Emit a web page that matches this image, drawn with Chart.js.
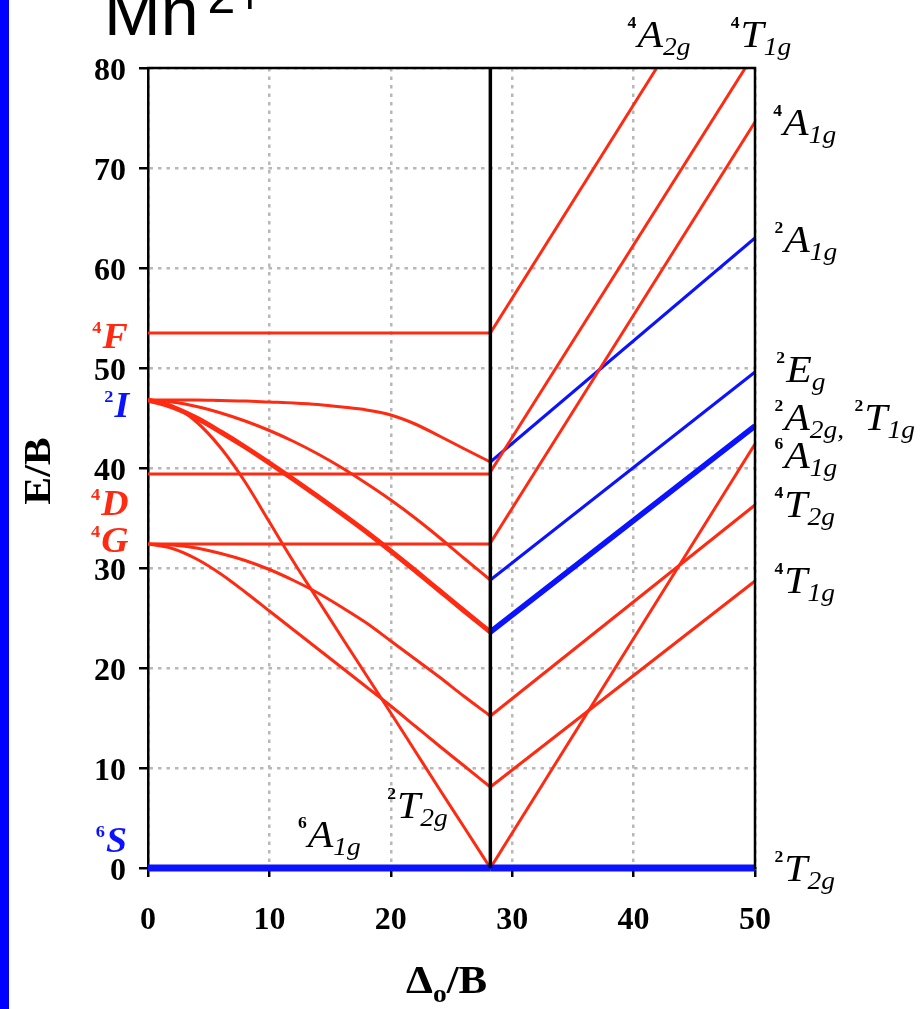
<!DOCTYPE html>
<html>
<head>
<meta charset="utf-8">
<title>Mn2+ Tanabe–Sugano diagram</title>
<script src="https://cdn.jsdelivr.net/npm/chart.js@4.4.1/dist/chart.umd.min.js"></script>
<style>
  html, body { margin: 0; padding: 0; background: #fff; }
  canvas { display: block; }
</style>
</head>
<body>
<canvas id="ts" width="922" height="1009"></canvas>
<script>
// ---------- data (E/B against Δo/B) ----------

// tick values
const xTicks = [0, 10, 20, 30, 40, 50];
const yTicks = [0, 10, 20, 30, 40, 50, 60, 70, 80];

// Δo/B where the high-spin / low-spin crossover happens
const crossover = [28.2, 28.2];
const crossoverE = [0, 80];

// weak-field side: flat free-ion terms
const xFlat = [0, 28.2];
const e4F = [53.5, 53.5];
const e4D = [39.4, 39.4];
const e4G = [32.4, 32.4];
const e6S = [0, 0];

// weak-field side: curved levels (sampled along Δo/B)
const xWeak = [0, 2, 4, 6, 8, 10, 12, 14, 16, 18, 20, 22, 24, 26, 28.2];
const e2Ia = [46.8, 46.8, 46.8, 46.75, 46.7, 46.6, 46.5, 46.35, 46.1, 45.8, 45.3, 44.4, 43.2, 41.95, 40.6];
const e2Ib = [46.8, 46.6, 46.15, 45.5, 44.7, 43.75, 42.65, 41.4, 40.0, 38.45, 36.8, 35.0, 33.05, 31.0, 28.8];
const e2Ic = [46.8, 46.1, 45.0, 43.6, 42.1, 40.5, 38.85, 37.15, 35.4, 33.6, 31.7, 29.75, 27.75, 25.75, 23.6];
const e2Id = [46.8, 46.2, 44.6, 42.0, 38.6, 34.6, 30.6, 26.8, 23.0, 19.25, 15.5, 11.7, 7.9, 4.15, 0];
const e4Ga = [32.4, 32.3, 32.0, 31.45, 30.75, 29.85, 28.75, 27.5, 26.05, 24.5, 22.7, 20.9, 19.1, 17.2, 15.2];
const e4Gb = [32.4, 31.95, 30.9, 29.4, 27.6, 25.7, 23.8, 21.9, 20.0, 18.1, 16.2, 14.2, 12.2, 10.25, 8.1];

// strong-field side: straight levels
const xStrong = [28.2, 50];
const x4A2g = [28.2, 41.9];
const e4A2g = [53.5, 80];
const x4T1gHi = [28.2, 49.2];
const e4T1gHi = [39.6, 80];
const e4A1g = [32.5, 74.6];
const e2A1g = [40.6, 63.0];
const e2Eg = [28.8, 49.6];
const e2A2g2T1g = [23.6, 44.2];
const e6A1g = [0, 42.4];
const e4T2g = [15.2, 36.3];
const e4T1gLo = [8.1, 28.7];
const e2T2g = [0, 0];

// term symbols: [spin multiplicity, letter, subscript]
const ionTerms = [['4', 'F'], ['2', 'I'], ['4', 'D'], ['4', 'G'], ['6', 'S']];
const strongStates = [
  [['4', 'A', '2g']], [['4', 'T', '1g']], [['4', 'A', '1g']], [['2', 'A', '1g']],
  [['2', 'E', 'g']], [['2', 'A', '2g'], ['2', 'T', '1g']], [['6', 'A', '1g']],
  [['4', 'T', '2g']], [['4', 'T', '1g']], [['2', 'T', '2g']]
];
const weakStates = [[['6', 'A', '1g']], [['2', 'T', '2g']]];

// ---------- styling / placement ----------
const RED = '#ff2a12';
const BLUE = '#0b12ff';
const SERIF = '"Liberation Serif", "Times New Roman", serif';
const SANS = '"Liberation Sans", Arial, sans-serif';

// anchor of each label in axis units (x, E): left edge, letter baseline
const ionPlace = [[-4.6, 52.0], [-3.6, 45.1], [-4.7, 35.3], [-4.7, 31.6], [-4.3, 1.6]];
const ionColor = [RED, BLUE, RED, RED, BLUE];
const strongPlace = [[39.5, 82.1], [48.0, 82.1], [51.5, 73.3], [51.6, 61.6], [51.75, 48.6],
                     [51.6, 43.8], [51.6, 40.0], [51.6, 35.1], [51.6, 27.5], [51.6, -1.3]];
const weakPlace = [[12.35, 2.1], [19.7, 5.0]];

const stateStyle = { sup: 'bold 16px ' + SERIF, supDy: -19, main: 'italic 38px ' + SERIF,
                     sub: 'italic 25px ' + SERIF, subDy: 8, stretch: 1.1 };
const ionStyle = { sup: 'bold 17px ' + SERIF, supDy: -15, main: 'bold italic 35px ' + SERIF,
                   stretch: 1.08 };

function pts(xs, ys) { return xs.map((x, i) => ({ x: x, y: ys[i] })); }

function line(xs, ys, color, width) {
  return { data: pts(xs, ys), borderColor: color, borderWidth: width, showLine: true,
           pointRadius: 0, fill: false, tension: 0 };
}
function curve(xs, ys, color, width) {
  const d = line(xs, ys, color, width);
  d.cubicInterpolationMode = 'monotone';
  return d;
}
function ground(xs, ys) {
  const d = line(xs, ys, BLUE, 7);
  d.clip = false;
  return d;
}

const datasets = [
  line(crossover, crossoverE, '#000', 3.5),
  ground(xFlat, e6S),
  ground(xStrong, e2T2g),
  // strong-field side
  line(x4A2g, e4A2g, RED, 3),
  line(x4T1gHi, e4T1gHi, RED, 3),
  line(xStrong, e4A1g, RED, 3),
  line(xStrong, e6A1g, RED, 3),
  line(xStrong, e4T2g, RED, 3),
  line(xStrong, e4T1gLo, RED, 3),
  line(xStrong, e2A1g, BLUE, 3),
  line(xStrong, e2Eg, BLUE, 3),
  line(xStrong, e2A2g2T1g, BLUE, 5.5),
  // weak-field side
  line(xFlat, e4F, RED, 3),
  line(xFlat, e4D, RED, 3),
  line(xFlat, e4G, RED, 3),
  curve(xWeak, e2Ia, RED, 3),
  curve(xWeak, e2Ib, RED, 3),
  curve(xWeak, e2Ic, RED, 5),
  curve(xWeak, e2Id, RED, 3),
  curve(xWeak, e4Ga, RED, 3),
  curve(xWeak, e4Gb, RED, 3)
];

// draw a term symbol such as ⁴A₂g (several joined by commas)
function drawTerms(ctx, x, y, terms, st, color) {
  ctx.save();
  ctx.translate(x, y);
  ctx.scale(st.stretch, 1);
  ctx.fillStyle = color;
  ctx.textBaseline = 'alphabetic';
  ctx.textAlign = 'left';
  let cx = 0;
  terms.forEach((t, i) => {
    if (i > 0) {
      ctx.font = st.sub;
      ctx.fillText(',', cx, st.subDy);
      cx += ctx.measureText(', ').width + 3;
    }
    ctx.font = st.sup;
    ctx.fillText(t[0], cx, st.supDy);
    cx += ctx.measureText(t[0]).width + 1;
    ctx.font = st.main;
    ctx.fillText(t[1], cx, 0);
    cx += ctx.measureText(t[1]).width;
    if (t[2]) {
      ctx.font = st.sub;
      ctx.fillText(t[2], cx, st.subDy);
      cx += ctx.measureText(t[2]).width;
    }
  });
  ctx.restore();
}

const decor = {
  id: 'decor',
  beforeDraw(chart) {
    const ctx = chart.ctx;
    ctx.save();
    ctx.fillStyle = '#0000ff';
    ctx.fillRect(0, 0, 9, chart.height);
    ctx.restore();
  },
  afterDraw(chart) {
    const ctx = chart.ctx;
    const { left, right, top, bottom } = chart.chartArea;
    const sx = chart.scales.x, sy = chart.scales.y;
    ctx.save();

    // frame: top and right edges
    ctx.strokeStyle = '#000';
    ctx.lineWidth = 2.5;
    ctx.beginPath();
    ctx.moveTo(left - 1, top);
    ctx.lineTo(right, top);
    ctx.lineTo(right, bottom + 1);
    ctx.stroke();

    // title
    ctx.fillStyle = '#000';
    ctx.textBaseline = 'alphabetic';
    ctx.textAlign = 'left';
    ctx.font = '68px ' + SANS;
    ctx.fillText('Mn', 104, 35);
    const w = ctx.measureText('Mn').width;
    ctx.font = '50px ' + SANS;
    ctx.fillText('2+', 104 + w + 9, 13);

    // axis titles
    ctx.save();
    ctx.translate(50, 471);
    ctx.rotate(-Math.PI / 2);
    ctx.scale(1.1, 1);
    ctx.textAlign = 'center';
    ctx.font = 'bold 38px ' + SERIF;
    ctx.fillText('E/B', 0, 0);
    ctx.restore();

    ctx.save();
    ctx.translate(406, 993);
    ctx.scale(1.1, 1);
    let ax = 0;
    ctx.font = 'bold 39px ' + SERIF;
    ctx.fillText('Δ', ax, 0);
    ax += ctx.measureText('Δ').width;
    ctx.font = 'bold 25px ' + SERIF;
    ctx.fillText('o', ax, 9);
    ax += ctx.measureText('o').width;
    ctx.font = 'bold 39px ' + SERIF;
    ctx.fillText('/B', ax, 0);
    ctx.restore();

    // term labels
    ionTerms.forEach((t, i) => {
      const p = ionPlace[i];
      drawTerms(ctx, sx.getPixelForValue(p[0]), sy.getPixelForValue(p[1]), [t], ionStyle, ionColor[i]);
    });
    strongStates.forEach((t, i) => {
      const p = strongPlace[i];
      drawTerms(ctx, sx.getPixelForValue(p[0]), sy.getPixelForValue(p[1]), t, stateStyle, '#000');
    });
    weakStates.forEach((t, i) => {
      const p = weakPlace[i];
      drawTerms(ctx, sx.getPixelForValue(p[0]), sy.getPixelForValue(p[1]), t, stateStyle, '#000');
    });
    ctx.restore();
  }
};

const tickFont = { family: SERIF, size: 32, weight: 'bold' };
const gridOpts = { color: '#b8b8b8', lineWidth: 2.5, tickColor: '#000', tickWidth: 2.5,
                   tickLength: 9, tickBorderDash: [], drawTicks: true };
const borderOpts = { color: '#000', width: 2.5, dash: [3.5, 5] };

new Chart(document.getElementById('ts'), {
  type: 'scatter',
  data: { datasets: datasets },
  options: {
    responsive: false,
    animation: false,
    layout: { padding: { left: 0, top: 68, right: 167, bottom: 0 } },
    plugins: { legend: { display: false }, tooltip: { enabled: false } },
    scales: {
      x: {
        type: 'linear', min: 0, max: 50,
        afterBuildTicks: s => { s.ticks = xTicks.map(v => ({ value: v })); },
        afterFit: s => { s.height = 141; },
        ticks: { color: '#000', font: tickFont, padding: 25, maxRotation: 0 },
        grid: gridOpts, border: borderOpts
      },
      y: {
        type: 'linear', min: 0, max: 80,
        afterBuildTicks: s => { s.ticks = yTicks.map(v => ({ value: v })); },
        afterFit: s => { s.width = 148; },
        ticks: { color: '#000', font: tickFont, padding: 13, labelOffset: 4 },
        grid: gridOpts, border: borderOpts
      }
    }
  },
  plugins: [decor]
});
</script>
</body>
</html>
